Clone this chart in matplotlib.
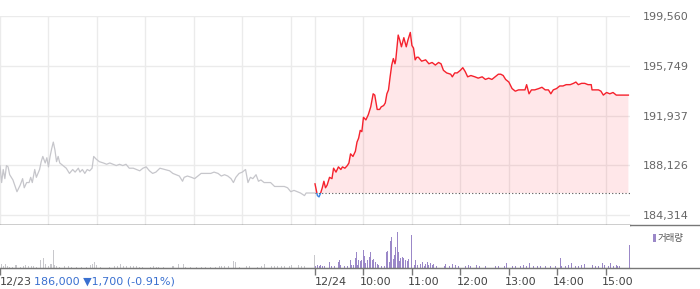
import numpy as np
import matplotlib
matplotlib.use("Agg")
import matplotlib.pyplot as plt
from matplotlib.patches import Rectangle
from matplotlib import transforms

# ---------------- data ----------------
prev_close = 186000
change_text = "186,000 ▼1,700 (-0.91%)"

# previous day (12/23): minutes after 09:00, price
prev_min = [0, 2, 4, 6, 8, 10, 12, 16, 21, 25, 28, 30, 33, 36, 38, 40, 43, 45, 49, 51,
            53, 56, 58, 60, 62, 64, 66, 68, 70, 72, 74, 78, 82, 86, 90, 93, 97, 99, 102, 105,
            108, 111, 114, 116, 119, 123, 128, 132, 136, 140, 144, 148, 152, 156, 160, 165, 169, 173, 177, 181,
            185, 189, 193, 198, 204, 210, 214, 218, 222, 226, 228, 232, 237, 241, 245, 249, 253, 257, 261, 265,
            270, 274, 278, 282, 286, 289, 292, 296, 300, 304, 307, 310, 313, 317, 320, 323, 327, 331, 335, 340,
            344, 348, 352, 356, 360, 364, 368, 372, 377, 379, 385, 390]
prev_price = [188100, 186800, 187800, 187100, 188100, 188000, 187400, 187000, 186100, 186600,
              187100, 186400, 186800, 186800, 187200, 186800, 187800, 187200, 187800, 188400,
              188800, 188300, 188700, 188000, 188800, 189400, 189900, 189300, 188400, 188800,
              188300, 188100, 187900, 187500, 187800, 187600, 187900, 187600, 187800, 187500,
              187800, 187700, 187900, 188800, 188600, 188400, 188300, 188200, 188300, 188200,
              188100, 188200, 188100, 188200, 187900, 187900, 187800, 187700, 187900, 188000,
              187700, 187500, 187600, 187900, 187800, 187700, 187500, 187400, 187300, 186900,
              187200, 187300, 187200, 187100, 187300, 187500, 187500, 187500, 187500, 187600,
              187500, 187300, 187400, 187300, 187100, 186800, 187200, 187500, 187600, 187800,
              186800, 187200, 187100, 187400, 186900, 187000, 186800, 186800, 186800, 186500,
              186500, 186500, 186500, 186400, 186100, 186200, 186100, 186000, 185800, 186000,
              186000, 186000]

# today (12/24): minutes after 09:00, price
today_min = [0, 3, 5, 7, 9, 11, 13, 15, 18, 21, 23, 26, 29, 32, 34, 37, 40, 42, 44, 47,
             50, 52, 54, 56, 58, 60, 63, 66, 69, 72, 74, 77, 80, 82, 85, 87, 89, 91, 93, 95,
             97, 99, 100, 103, 105, 107, 110, 113, 115, 118, 120, 122, 124, 126, 128, 132, 137, 141, 145, 149,
             153, 156, 159, 163, 168, 170, 173, 176, 180, 183, 186, 189, 193, 198, 202, 207, 211, 215, 219, 223,
             227, 230, 233, 236, 240, 244, 248, 252, 256, 260, 262, 265, 268, 272, 277, 281, 285, 289, 292, 295,
             299, 303, 307, 311, 316, 320, 323, 326, 330, 334, 338, 342, 343, 347, 351, 354, 357, 361, 365, 369,
             373, 379, 388]
today_price = [186700, 185800, 185700, 186000, 186400, 186900, 186400, 186600, 187200, 187100,
               187900, 187600, 188000, 187800, 188000, 187900, 188100, 188300, 189000, 188800,
               189200, 189900, 190200, 190800, 190700, 191800, 191600, 192000, 192600, 193600,
               193500, 192400, 192400, 192600, 192700, 192900, 193600, 193900, 194900, 195800,
               196300, 195900, 196200, 198100, 197700, 197200, 197900, 197200, 197700, 198300,
               197300, 197100, 196200, 196400, 196400, 196100, 196200, 195900, 196000, 195800,
               196000, 195900, 195400, 195200, 195100, 194900, 195200, 195200, 195400, 195600,
               195300, 194900, 195000, 194900, 194800, 194900, 194700, 194800, 194700, 194900,
               195100, 195100, 195000, 194700, 194500, 194000, 193800, 193900, 193900, 193900,
               194300, 193600, 193900, 193900, 194000, 194100, 193900, 193900, 193600, 193900,
               194000, 194200, 194200, 194300, 194300, 194400, 194500, 194300, 194400, 194400,
               194300, 194300, 193900, 193900, 193900, 193800, 193500, 193700, 193600, 193700,
               193500, 193500, 193500]

# volume (shares) - previous day
prev_vol_min = [0, 2, 4, 7, 9, 12, 15, 19, 21, 25, 29, 32, 35, 39, 41, 45, 50, 52, 54, 56,
                60, 62, 64, 66, 67, 70, 74, 80, 85, 89, 95, 101, 107, 112, 115, 117, 119, 124, 130, 136,
                142, 146, 149, 153, 157, 161, 165, 169, 173, 177, 182, 186, 190, 194, 196, 202, 208, 213, 215, 221,
                227, 230, 236, 243, 249, 255, 261, 267, 272, 274, 278, 283, 289, 291, 297, 305, 309, 319, 324, 328,
                336, 340, 344, 348, 352, 359, 361, 369, 373, 377, 389]
prev_vol = [5000, 4300, 1700, 4300, 2300, 1000, 1000, 3300, 2700, 1000, 1700, 2700, 1700, 2300, 1700,
            1000, 8300, 5000, 10300, 3700, 1700, 3700, 4300, 17700, 2700, 1700, 1000, 1700, 1700, 1000,
            1000, 1000, 1000, 2700, 3700, 6000, 2700, 1000, 1000, 1000, 1700, 1700, 3700, 1700, 1700,
            2300, 1700, 1700, 1000, 1000, 1700, 1000, 1700, 1000, 1000, 1000, 1000, 2300, 2300, 3700,
            3700, 1000, 1000, 1000, 1000, 1000, 1000, 1000, 1700, 2300, 2300, 1700, 6700, 5700, 1000,
            1700, 1700, 1000, 1700, 4300, 2300, 2300, 2300, 1700, 1700, 2300, 3300, 3300, 2300, 2300,
            12700]

# volume (shares) - today
today_vol_min = [1, 3, 5, 7, 9, 12, 18, 20, 24, 29, 30, 32, 36, 40, 44, 45, 48, 50, 51, 53,
                 54, 56, 58, 60, 61, 63, 65, 67, 69, 71, 73, 75, 77, 79, 82, 86, 89, 90, 92, 94,
                 95, 97, 99, 100, 102, 103, 105, 106, 108, 110, 112, 114, 116, 119, 120, 123, 125, 127, 131, 133,
                 135, 137, 139, 141, 143, 145, 147, 151, 156, 160, 162, 166, 170, 174, 178, 182, 186, 190, 192, 200,
                 204, 211, 223, 227, 235, 237, 244, 248, 254, 258, 262, 266, 270, 275, 279, 285, 291, 298, 304, 305,
                 310, 314, 318, 322, 326, 330, 334, 338, 343, 347, 351, 356, 359, 363, 366, 369, 373, 375, 377, 389]
today_vol = [2300, 3000, 2300, 3300, 2300, 2300, 6300, 1700, 2300, 6300, 7700, 3000, 1700, 2300, 8300,
             3000, 3000, 9700, 16300, 3000, 8300, 7300, 8300, 18300, 12300, 5000, 8300, 10700, 15700, 8000,
             9000, 5700, 3700, 3000, 2300, 2300, 15700, 17000, 6300, 27300, 30700, 9000, 13000, 20700, 36300,
             15700, 7300, 9700, 10700, 9700, 8300, 7300, 9000, 33000, 4000, 3000, 8300, 3000, 4000, 6300,
             2300, 4000, 5700, 3000, 5000, 3000, 4000, 2300, 3000, 2300, 4000, 2300, 4000, 3000, 2300,
             3000, 2300, 3000, 1700, 2700, 1700, 1700, 1700, 1700, 1700, 5000, 2300, 2300, 1700, 2700,
             1700, 5000, 1700, 1700, 2300, 1700, 1700, 2300, 10000, 2300, 2300, 3300, 5000, 2300, 2300,
             2700, 4300, 2300, 3300, 2300, 2300, 5000, 3300, 2300, 5000, 2300, 3300, 2300, 2300, 22700]

y_ticks = [184314, 188126, 191937, 195749, 199560]
x_tick_pos = [0, 390, 450, 510, 570, 630, 690, 750]
x_tick_labels = ["12/23", "12/24", "10:00", "11:00", "12:00", "13:00", "14:00", "15:00"]
x_grid_pos = [0, 60, 120, 180, 240, 300, 360, 390, 450, 510, 570, 630, 690, 750]

# ---------------- styling ----------------
GRID = "#ebebeb"
GRAY_LINE = "#c6c6cb"
RED = "#f5222d"
BLUE = "#3b82e0"
PINK = "#ff2a3a"
PURPLE = "#9b88c8"
GRAY_BAR = "#c8c8cc"
AXIS = "#777777"

W, H = 700, 289
fig = plt.figure(figsize=(W / 100, H / 100), dpi=100)
ax = fig.add_axes([0, 64 / H, 630 / W, 209 / H])
axv = fig.add_axes([0, 21 / H, 630 / W, 43 / H])

prev_x = np.array(prev_min, dtype=float)
prev_y = np.array(prev_price, dtype=float)
tod_x = 390 + np.array(today_min, dtype=float)
tod_y = np.array(today_price, dtype=float)

# main chart
ax.set_xlim(0, 780)
ax.set_ylim(183548, 199560)
ax.set_xticks(x_grid_pos)
ax.set_yticks(y_ticks)
ax.grid(True, color=GRID, lw=1)
ax.set_axisbelow(True)
ax.tick_params(axis="x", length=0, labelbottom=False)
ax.yaxis.tick_right()
ax.set_yticklabels([f"{v:,}" for v in y_ticks])
ax.tick_params(axis="y", length=0, pad=9, labelsize=8, labelcolor="#666666")
for s in ["top", "left", "right"]:
    ax.spines[s].set_visible(False)
ax.spines["bottom"].set_color(AXIS)
ax.spines["bottom"].set_linewidth(1)
ax.plot([0, W / 630], [0, 0], transform=ax.transAxes, clip_on=False, color=AXIS, lw=1)

ax.plot(prev_x, prev_y, color=GRAY_LINE, lw=0.9)

ax.fill_between(tod_x, tod_y, prev_close, where=tod_y >= prev_close, interpolate=True,
                color=PINK, alpha=0.11, lw=0)
ax.plot([390, 780], [prev_close, prev_close], color="#555555", lw=0.8, ls=(0, (1, 2)))

red_line, = ax.plot(tod_x, tod_y, color=RED, lw=1.0)
blue_line, = ax.plot(tod_x, tod_y, color=BLUE, lw=1.0)
clip_up = Rectangle((0, prev_close), 780, 1e6, transform=ax.transData)
clip_dn = Rectangle((0, prev_close - 1e6), 780, 1e6, transform=ax.transData)
red_line.set_clip_path(clip_up)
blue_line.set_clip_path(clip_dn)

# volume chart
axv.set_xlim(0, 780)
axv.set_ylim(0, 43000)
axv.bar(prev_vol_min, prev_vol, width=1.2, color=GRAY_BAR, lw=0, antialiased=False)
axv.bar(390 + np.array(today_vol_min), today_vol, width=1.2, color=PURPLE, lw=0,
        antialiased=False)
for s in ["top", "left", "right"]:
    axv.spines[s].set_visible(False)
axv.spines["bottom"].set_color(AXIS)
axv.plot([0, W / 630], [0, 0], transform=axv.transAxes, clip_on=False, color=AXIS, lw=1)
axv.set_yticks([])
axv.set_xticks(x_tick_pos)
axv.set_xticklabels([])
axv.tick_params(axis="x", direction="out", length=5, color=AXIS, width=1)

base_tr = axv.get_xaxis_transform()
for pos, lab in zip(x_tick_pos, x_tick_labels):
    dx = 0 if "/" in lab else -4
    tr = transforms.offset_copy(base_tr, fig=fig, x=dx, y=-14, units="dots")
    axv.text(pos, 0, lab, transform=tr, ha="left", va="center", fontsize=8,
             color="#444444", clip_on=False)
tr_blue = transforms.offset_copy(base_tr, fig=fig, x=34, y=-14, units="dots")
axv.text(0, 0, change_text, transform=tr_blue, ha="left", va="center", fontsize=8,
         color="#3a70d0", clip_on=False, family=["DejaVu Sans"])

# legend
fig.patches.append(Rectangle((652.5 / W, 1 - 242 / H), 3 / W, 8 / H,
                             transform=fig.transFigure, color=PURPLE, lw=0))
fig.text(658 / W, 1 - 238 / H, "거래량", ha="left", va="center", fontsize=6.8,
         color="#555555", family=["Noto Sans CJK KR", "DejaVu Sans"])

fig.savefig("out.png", dpi=100)
